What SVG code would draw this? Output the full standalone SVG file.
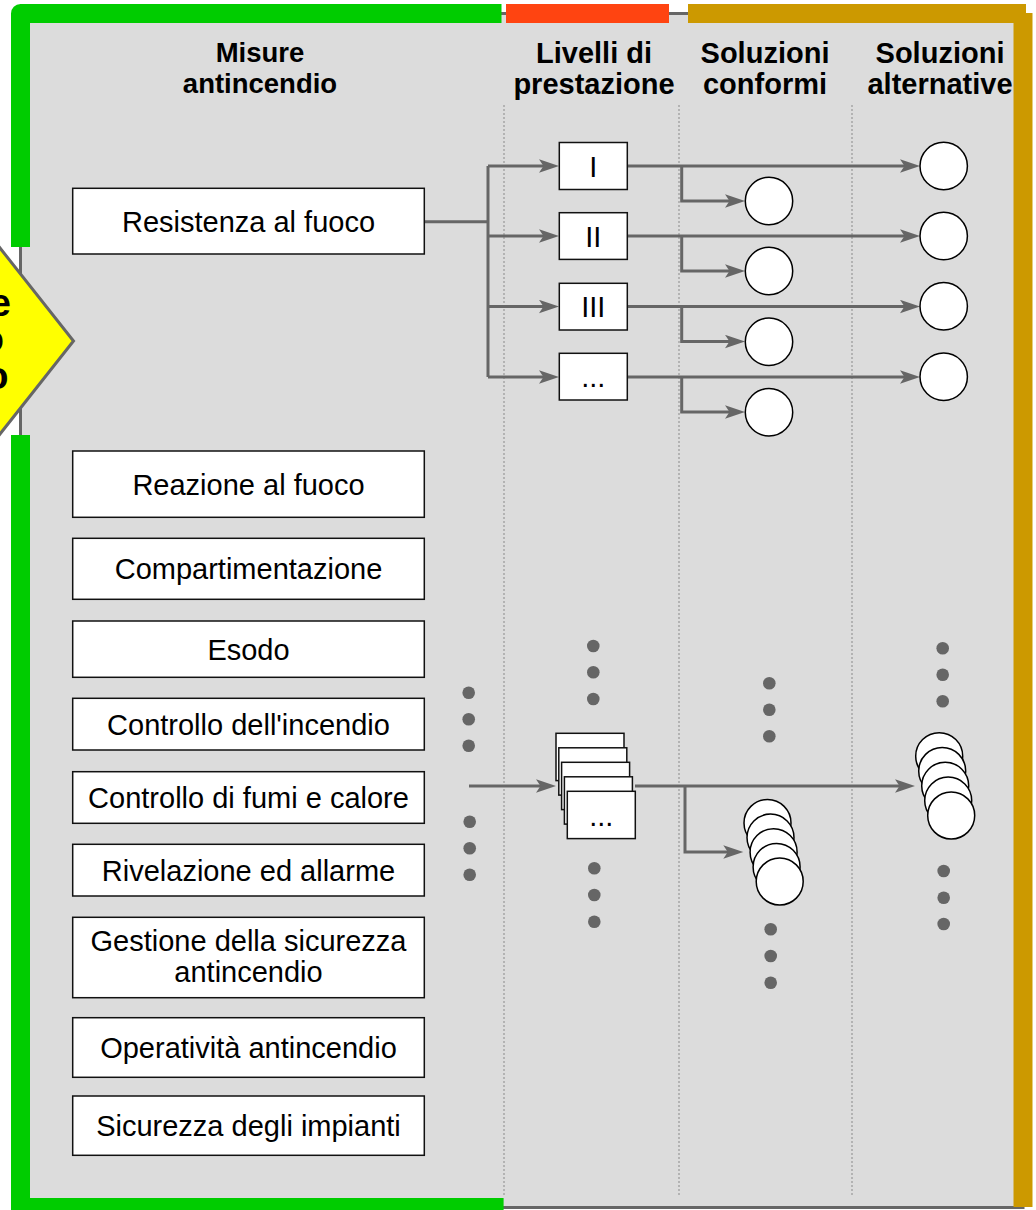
<svg xmlns="http://www.w3.org/2000/svg" width="1036" height="1210" viewBox="0 0 1036 1210">
<defs>
<style>
.lbl{font-family:"Liberation Sans",Arial,sans-serif;font-size:29px;text-anchor:middle;fill:#000}
.hdr{font-family:"Liberation Sans",Arial,sans-serif;font-weight:bold;font-size:29px;text-anchor:middle;fill:#000}
.dia{font-family:"Liberation Sans",Arial,sans-serif;font-weight:bold;font-size:38px;text-anchor:end;fill:#000}
.box{fill:#fff;stroke:#111;stroke-width:1.5}
.circ{fill:#fff;stroke:#000;stroke-width:1.5}
.conn{fill:none;stroke:#666;stroke-width:3}
.arr{marker-end:url(#ah)}
.dot{fill:#666}
.col{stroke:#8a8a8a;stroke-width:1;stroke-dasharray:2 2;fill:none}
</style>
<marker id="ah" markerUnits="userSpaceOnUse" markerWidth="22" markerHeight="16" viewBox="0 0 22 16" refX="14" refY="7" orient="auto">
<path d="M0,0.3 L20,7 L0,13.7 L4.5,7 Z" fill="#666"/>
</marker>
</defs>

<g id="frame">
<rect x="20.5" y="13.5" width="1002.5" height="1194" fill="#dcdcdc" stroke="#666" stroke-width="3"/>
<path d="M501.5,13.5 H20.5 V247" fill="none" stroke="#00cc00" stroke-width="19" stroke-linejoin="round"/>
<path d="M20.5,435 V1207.5 H503.6" fill="none" stroke="#00cc00" stroke-width="19"/>
<path d="M506,13.5 H669" fill="none" stroke="#ff4411" stroke-width="19"/>
<path d="M688,13.5 H1026" fill="none" stroke="#cc9900" stroke-width="19"/>
<path d="M1023,13 V1207" fill="none" stroke="#cc9900" stroke-width="19"/>
</g>

<g id="columns">
<line class="col" x1="504" y1="105" x2="504" y2="1195"/>
<line class="col" x1="679" y1="105" x2="679" y2="1195"/>
<line class="col" x1="852" y1="105" x2="852" y2="1195"/>
</g>

<g id="diamond">
<polygon points="-80,146.8 73.5,341 -80,535.2 -233.5,341" fill="#ffff00" stroke="#666" stroke-width="3"/>
<text class="dia" x="11" y="316">Valutazione</text>
<text class="dia" x="4" y="352">del rischio</text>
<text class="dia" x="8.5" y="389">incendio</text>
</g>

<g id="headers">
<text class="hdr" style="font-size:27.5px" x="260" y="62">Misure</text>
<text class="hdr" style="font-size:27.5px" x="260" y="92.5">antincendio</text>
<text class="hdr" x="594" y="62.5">Livelli di</text>
<text class="hdr" x="594" y="93.5">prestazione</text>
<text class="hdr" x="765" y="62.5">Soluzioni</text>
<text class="hdr" x="765" y="93.5">conformi</text>
<text class="hdr" x="940" y="62.5">Soluzioni</text>
<text class="hdr" x="940" y="93.5">alternative</text>
</g>

<g id="connectors">
<path class="conn" d="M424,221.7 H488 M488,166 V377"/>
<path class="conn arr" d="M488,166 H553"/>
<path class="conn arr" d="M488,236 H553"/>
<path class="conn arr" d="M488,306.5 H553"/>
<path class="conn arr" d="M488,377 H553"/>
<path class="conn arr" d="M627.3,166 H914"/>
<path class="conn arr" d="M627.3,236 H914"/>
<path class="conn arr" d="M627.3,306.5 H914"/>
<path class="conn arr" d="M627.3,377 H914"/>
<path class="conn arr" d="M681.7,166 V201 H739"/>
<path class="conn arr" d="M681.7,236 V271 H739"/>
<path class="conn arr" d="M681.7,306.5 V341.5 H739"/>
<path class="conn arr" d="M681.7,377 V412 H739"/>
<path class="conn arr" d="M469,786 H550"/>
<path class="conn arr" d="M635,786 H909"/>
<path class="conn arr" d="M685,786 V852 H737.3"/>
</g>

<g id="measures">
<g id="n-resistenza"><rect class="box" x="72.7" y="188.3" width="351.6" height="65.7"/><text class="lbl" x="248.5" y="231.7">Resistenza al fuoco</text></g>
<g id="n-reazione"><rect class="box" x="72.7" y="451" width="351.6" height="66.3"/><text class="lbl" x="248.5" y="494.7">Reazione al fuoco</text></g>
<g id="n-compartimentazione"><rect class="box" x="72.7" y="538.3" width="351.6" height="61"/><text class="lbl" x="248.5" y="579.3">Compartimentazione</text></g>
<g id="n-esodo"><rect class="box" x="72.7" y="621" width="351.6" height="56.3"/><text class="lbl" x="248.5" y="659.7">Esodo</text></g>
<g id="n-controllo-incendio"><rect class="box" x="72.7" y="698.3" width="351.6" height="51.7"/><text class="lbl" x="248.5" y="734.7">Controllo dell'incendio</text></g>
<g id="n-fumi"><rect class="box" x="72.7" y="771.7" width="351.6" height="51.6"/><text class="lbl" x="248.5" y="808">Controllo di fumi e calore</text></g>
<g id="n-rivelazione"><rect class="box" x="72.7" y="844.3" width="351.6" height="51.7"/><text class="lbl" x="248.5" y="880.7">Rivelazione ed allarme</text></g>
<g id="n-gestione"><rect class="box" x="72.7" y="917.3" width="351.6" height="80.4"/><text class="lbl" x="248.5" y="950.7">Gestione della sicurezza</text><text class="lbl" x="248.5" y="981.7">antincendio</text></g>
<g id="n-operativita"><rect class="box" x="72.7" y="1017.7" width="351.6" height="59.6"/><text class="lbl" x="248.5" y="1058">Operatività antincendio</text></g>
<g id="n-impianti"><rect class="box" x="72.7" y="1096" width="351.6" height="59.3"/><text class="lbl" x="248.5" y="1136">Sicurezza degli impianti</text></g>
</g>

<g id="levels">
<g id="lv-1"><rect class="box" x="559.3" y="142.5" width="68" height="47"/><text class="lbl" x="593.3" y="176.5">I</text></g>
<g id="lv-2"><rect class="box" x="559.3" y="212.7" width="68" height="46.7"/><text class="lbl" x="593.3" y="246.5">II</text></g>
<g id="lv-3"><rect class="box" x="559.3" y="283.3" width="68" height="46.7"/><text class="lbl" x="593.3" y="317">III</text></g>
<g id="lv-4"><rect class="box" x="559.3" y="353.3" width="68" height="46.7"/><text class="lbl" x="593.3" y="387">...</text></g>
<g id="lv-stack">
<rect class="box" x="556" y="733.3" width="68" height="47.3"/>
<rect class="box" x="558.8" y="747.8" width="68" height="47.3"/>
<rect class="box" x="561.6" y="762.3" width="68" height="47.3"/>
<rect class="box" x="564.4" y="776.8" width="68" height="47.3"/>
<rect class="box" x="567.3" y="791.3" width="68" height="47.3"/>
<text class="lbl" x="601.3" y="825.5">...</text>
</g>
</g>

<g id="conformi">
<circle class="circ" id="sc-1" cx="769" cy="201" r="23.7"/>
<circle class="circ" id="sc-2" cx="769" cy="271" r="23.7"/>
<circle class="circ" id="sc-3" cx="769" cy="341.8" r="23.7"/>
<circle class="circ" id="sc-4" cx="769" cy="412.3" r="23.7"/>
<g id="sc-stack">
<circle class="circ" cx="767.5" cy="823" r="23.5"/>
<circle class="circ" cx="770.5" cy="837.6" r="23.5"/>
<circle class="circ" cx="773.6" cy="852.2" r="23.5"/>
<circle class="circ" cx="776.6" cy="866.9" r="23.5"/>
<circle class="circ" cx="779.7" cy="881.5" r="23.5"/>
</g>
</g>

<g id="alternative">
<circle class="circ" id="sa-1" cx="943.7" cy="166" r="23.7"/>
<circle class="circ" id="sa-2" cx="943.7" cy="236" r="23.7"/>
<circle class="circ" id="sa-3" cx="943.7" cy="306.3" r="23.7"/>
<circle class="circ" id="sa-4" cx="943.7" cy="376.7" r="23.7"/>
<g id="sa-stack">
<circle class="circ" cx="939.2" cy="756.2" r="23.5"/>
<circle class="circ" cx="942.2" cy="771" r="23.5"/>
<circle class="circ" cx="945.2" cy="785.8" r="23.5"/>
<circle class="circ" cx="948.2" cy="800.6" r="23.5"/>
<circle class="circ" cx="951.2" cy="815.5" r="23.5"/>
</g>
</g>

<g id="ellipsis-dots">
<circle class="dot" cx="468.7" cy="692.7" r="6.3"/><circle class="dot" cx="468.7" cy="719.3" r="6.3"/><circle class="dot" cx="468.7" cy="745.7" r="6.3"/>
<circle class="dot" cx="469.7" cy="821.7" r="6.3"/><circle class="dot" cx="469.7" cy="848.3" r="6.3"/><circle class="dot" cx="469.7" cy="874.7" r="6.3"/>
<circle class="dot" cx="593.3" cy="646" r="6.3"/><circle class="dot" cx="593.3" cy="672.3" r="6.3"/><circle class="dot" cx="593.3" cy="699" r="6.3"/>
<circle class="dot" cx="594.3" cy="868.3" r="6.3"/><circle class="dot" cx="594.3" cy="895" r="6.3"/><circle class="dot" cx="594.3" cy="921.7" r="6.3"/>
<circle class="dot" cx="769.3" cy="683.3" r="6.3"/><circle class="dot" cx="769.3" cy="709.7" r="6.3"/><circle class="dot" cx="769.3" cy="736.3" r="6.3"/>
<circle class="dot" cx="770.7" cy="929.3" r="6.3"/><circle class="dot" cx="770.7" cy="956" r="6.3"/><circle class="dot" cx="770.7" cy="982.7" r="6.3"/>
<circle class="dot" cx="942.7" cy="648.3" r="6.3"/><circle class="dot" cx="942.7" cy="674.7" r="6.3"/><circle class="dot" cx="942.7" cy="701.3" r="6.3"/>
<circle class="dot" cx="943.7" cy="871" r="6.3"/><circle class="dot" cx="943.7" cy="897.7" r="6.3"/><circle class="dot" cx="943.7" cy="924" r="6.3"/>
</g>
</svg>
